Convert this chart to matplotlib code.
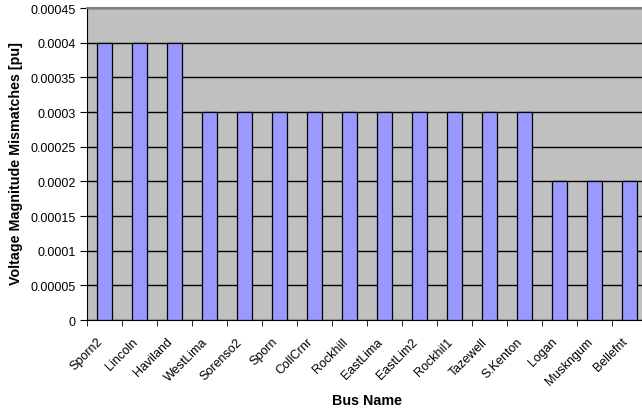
import matplotlib
matplotlib.use('Agg')
import matplotlib.pyplot as plt
import numpy as np

plt.rcParams['font.family'] = ['Liberation Sans', 'DejaVu Sans']

# Voltage magnitude mismatch per bus
bus_names = ['Sporn2', 'Lincoln', 'Haviland', 'WestLima', 'Sorenso2', 'Sporn',
             'CollCrnr', 'Rockhill', 'EastLima', 'EastLim2', 'Rockhil1', 'Tazewell',
             'S.Kenton', 'Logan', 'Muskngum', 'Bellefnt']
mismatch = [0.0004, 0.0004, 0.0004, 0.0003, 0.0003, 0.0003,
            0.0003, 0.0003, 0.0003, 0.0003, 0.0003, 0.0003,
            0.0003, 0.0002, 0.0002, 0.0002]
y_ticks = np.arange(0, 0.00046, 0.00005)
y_tick_labels = ['0', '0.00005', '0.0001', '0.00015', '0.0002', '0.00025',
                 '0.0003', '0.00035', '0.0004', '0.00045']

fig = plt.figure(figsize=(6.42, 4.14), dpi=100)
ax = fig.add_axes([0.1355, 0.2246, 0.872, 0.7536])
ax.set_facecolor('#C0C0C0')

x = np.arange(len(bus_names))
ax.bar(x, mismatch, width=0.42, color='#9999FF', edgecolor='black',
       linewidth=0.9, zorder=3)

ax.set_xlim(-0.5, len(bus_names) - 0.5)
ax.set_ylim(0, 0.00045)
ax.set_yticks(y_ticks)
ax.set_yticklabels(y_tick_labels, fontsize=9)
ax.yaxis.grid(True, color='black', linewidth=1.0, zorder=1)
ax.set_axisbelow(True)

# rotated category labels sit a little left of each bar centre;
# ticks go on the category boundaries
ax.set_xticks(x - 0.23)
ax.set_xticklabels(bus_names, rotation=45, ha='right', rotation_mode='anchor',
                   fontsize=9)
ax.set_xticks(np.arange(len(bus_names) + 1) - 0.5, minor=True)
ax.tick_params(axis='x', which='major', length=0, pad=11)
ax.tick_params(axis='x', which='minor', length=4, direction='out', color='black')
ax.tick_params(axis='y', length=5, direction='out', color='black', pad=3)

ax.spines['top'].set_color('#808080')
ax.spines['top'].set_linewidth(1.5)
ax.spines['right'].set_visible(False)
ax.spines['left'].set_color('black')
ax.spines['bottom'].set_color('black')

ax.set_xlabel('Bus Name', fontsize=10.3, fontweight='bold', va='center')
ax.xaxis.set_label_coords(0.501, (321 - 401) / 312)
ax.set_ylabel('Voltage Magnitude Mismatches [pu]', fontsize=10.3,
              fontweight='bold', va='center')
ax.yaxis.set_label_coords((16.5 - 87.3) / 560, (321 - 163.5) / 312)

fig.savefig('out.png', dpi=100)
